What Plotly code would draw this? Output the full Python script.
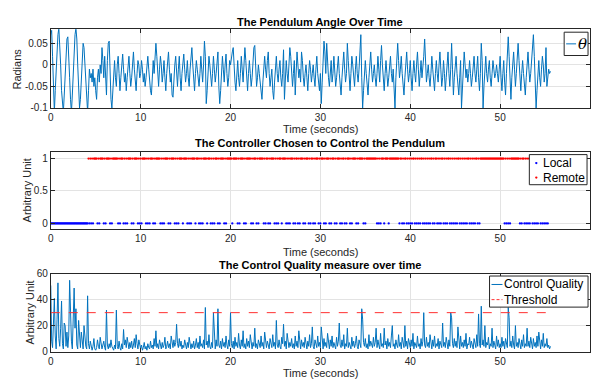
import plotly.graph_objects as go

# ---------------- data ----------------
dt = 0.1
theta = [
    0.07, 0.08, 0.02, -0.07, -0.11, -0.06, 0.0, 0.05, 0.07, 0.085,
    0.05, 0.0, -0.06, -0.1, -0.11, -0.07, -0.02, 0.03, 0.06, 0.065,
    0.03, -0.03, -0.08, -0.11, -0.07, -0.01, 0.04, 0.07, 0.085, 0.06,
    0.0, -0.06, -0.1, -0.08, -0.03, 0.02, 0.05, 0.04, 0.0, -0.05,
    -0.09, -0.11, -0.06, -0.01, -0.03, -0.02, -0.04, -0.01, -0.05, -0.03,
    -0.06, -0.08, -0.03, -0.01, -0.04, 0.0, -0.02, 0.04, 0.01, -0.03,
    0.02, -0.05, -0.07, 0.01, 0.05, 0.055, -0.02, -0.08, -0.1, -0.05,
    -0.01, 0.01, -0.03, -0.05, 0.0, 0.02, -0.02, -0.06, -0.03, 0.01,
    0.025, -0.01, -0.04, -0.02, -0.06, -0.03, 0.01, 0.02, -0.02, -0.05,
    -0.03, 0.0, 0.03, -0.01, -0.04, -0.06, -0.02, 0.01, 0.0, -0.03,
    -0.02, 0.01, -0.01, -0.04, -0.02, -0.05, -0.03, 0.0, 0.02, -0.01,
    -0.04, -0.06, -0.07, -0.03, 0.01, -0.02, 0.03, 0.05, 0.02, -0.03,
    -0.05, -0.01, 0.02, 0.0, -0.04, -0.02, 0.01, -0.03, -0.06, -0.02,
    0.01, 0.03, -0.01, -0.04, -0.02, -0.07, -0.075, -0.03, 0.0, 0.02,
    -0.02, -0.05, -0.01, 0.02, -0.03, -0.06, -0.02, 0.01, 0.025, -0.01,
    -0.04, -0.02, 0.01, -0.03, -0.05, -0.01, 0.02, 0.04, 0.0, -0.04,
    -0.06, -0.02, 0.01, -0.01, -0.03, -0.05, -0.02, 0.02, -0.01, -0.04,
    0.0, 0.055, 0.02, -0.09, -0.06, -0.02, 0.02, 0.0, -0.03, -0.05,
    -0.02, 0.02, -0.01, -0.04, -0.02, 0.01, 0.03, -0.05, -0.09, -0.06,
    -0.02, 0.02, -0.01, -0.04, 0.0, 0.025, -0.02, -0.05, -0.03, 0.01,
    0.0, 0.02, 0.03, 0.04, -0.01, -0.04, -0.06, -0.02, 0.01, -0.03,
    -0.05, -0.02, 0.02, -0.01, -0.04, 0.0, 0.04, 0.01, -0.03, -0.06,
    -0.02, 0.01, -0.02, -0.05, -0.03, 0.02, 0.04, 0.045, -0.01, -0.05,
    -0.03, 0.0, -0.02, -0.04, -0.06, -0.08, -0.04, 0.0, 0.02, -0.01,
    -0.03, 0.01, 0.03, -0.02, -0.05, -0.03, -0.01, -0.06, -0.08, -0.04,
    0.0, 0.02, -0.02, -0.04, -0.01, 0.01, -0.03, -0.05, -0.02, 0.035,
    -0.08, -0.03, 0.01, -0.02, -0.04, 0.0, 0.04, 0.02, -0.03, -0.05,
    -0.02, 0.01, -0.07, -0.02, 0.03, 0.0, -0.03, -0.01, -0.04, 0.03,
    0.01, -0.03, -0.05, -0.02, 0.0, -0.03, -0.06, -0.02, 0.01, -0.01,
    -0.04, -0.02, 0.0, -0.03, -0.05, -0.01, 0.02, -0.02, -0.04, -0.06,
    -0.02, -0.09, -0.04, 0.02, 0.055, 0.03, -0.02, 0.05, 0.0, -0.03,
    -0.05, -0.02, 0.01, -0.04, -0.02, 0.02, -0.01, -0.05, -0.03, 0.0,
    0.02, -0.02, -0.05, -0.07, -0.03, 0.0, 0.03, -0.01, -0.04, -0.02,
    0.05, 0.01, -0.04, -0.06, -0.02, 0.02, 0.0, -0.03, -0.05, -0.01,
    0.02, -0.02, -0.04, -0.01, 0.03, 0.07, -0.03, -0.1, -0.06, -0.02,
    0.01, -0.02, -0.05, -0.07, -0.03, 0.01, 0.03, -0.01, -0.04, -0.02,
    0.0, -0.03, -0.05, -0.02, 0.02, -0.01, -0.04, 0.01, 0.045, 0.0,
    -0.04, -0.06, -0.02, 0.01, -0.02, -0.05, -0.03, 0.0, 0.02, -0.02,
    -0.04, -0.01, -0.06, -0.1, -0.03, 0.02, 0.05, 0.01, -0.03, -0.01,
    0.02, -0.02, -0.05, -0.07, -0.03, 0.0, 0.03, -0.01, -0.04, -0.02,
    0.01, -0.03, -0.06, -0.02, 0.01, -0.02, -0.04, 0.0, 0.03, -0.01,
    -0.05, -0.02, 0.01, -0.03, -0.01, 0.02, 0.06, 0.01, -0.04, -0.02,
    0.0, -0.03, -0.05, -0.02, 0.02, -0.01, -0.04, -0.06, -0.02, 0.01,
    -0.02, -0.04, 0.0, 0.03, -0.01, -0.05, -0.03, 0.01, -0.02, -0.06,
    -0.03, 0.01, 0.03, -0.02, -0.05, -0.01, 0.05, -0.01, -0.07, -0.03,
    0.0, 0.02, -0.02, -0.05, -0.07, -0.03, 0.01, -0.1, -0.05, 0.0,
    0.03, 0.0, -0.03, -0.01, -0.04, -0.02, 0.01, -0.02, -0.05, -0.03,
    0.0, 0.02, -0.02, -0.04, -0.01, 0.02, -0.03, -0.06, -0.02, 0.05,
    0.01, -0.1, -0.05, -0.01, 0.02, -0.02, -0.04, -0.01, 0.01, -0.03,
    -0.05, -0.02, 0.01, -0.01, -0.03, -0.02, 0.0, -0.02, -0.04, -0.01,
    0.02, -0.03, -0.06, -0.02, 0.01, -0.04, -0.07, -0.02, 0.03, 0.065,
    0.02, -0.04, -0.08, -0.03, 0.01, 0.03, -0.01, -0.05, -0.02, 0.02,
    0.05, 0.01, -0.03, -0.06, -0.02, 0.01, -0.02, -0.05, -0.07, -0.03,
    0.0, 0.03, -0.01, -0.04, -0.02, 0.02, 0.04, 0.07, 0.02, -0.05,
    -0.1, -0.06, -0.02, 0.01, -0.03, -0.05, -0.01, 0.02, 0.0, -0.04,
    -0.02, 0.04, -0.05, -0.03, -0.01, -0.02, -0.015,
]

# 1 = Remote controller, 0 = Local controller (one entry per sample)
chosen = [
    0, 0, 0, 0, 0, 0, 0, 0, 0, 0,
    0, 0, 0, 0, 0, 0, 0, 0, 0, 0,
    0, 0, 0, 0, 0, 0, 0, 0, 0, 0,
    0, 0, 0, 0, 0, 0, 0, 0, 0, 0,
    0, 0, 1, 0, 1, 0, 1, 0, 1, 1,
    1, 1, 0, 1, 0, 1, 1, 1, 1, 0,
    1, 0, 1, 1, 1, 1, 0, 1, 0, 1,
    1, 1, 1, 1, 1, 0, 1, 0, 1, 1,
    1, 0, 1, 0, 1, 0, 1, 1, 1, 1,
    0, 1, 0, 1, 1, 1, 1, 0, 1, 0,
    1, 0, 1, 1, 1, 1, 0, 1, 0, 1,
    0, 1, 1, 1, 0, 1, 0, 1, 1, 1,
    1, 1, 0, 1, 0, 1, 0, 1, 1, 1,
    1, 0, 1, 0, 1, 1, 1, 1, 0, 1,
    0, 1, 0, 1, 1, 1, 1, 0, 1, 1,
    1, 1, 0, 1, 0, 1, 0, 1, 1, 1,
    1, 0, 1, 1, 1, 0, 1, 0, 1, 0,
    1, 1, 1, 1, 0, 1, 1, 1, 0, 1,
    0, 1, 0, 1, 1, 1, 0, 1, 0, 1,
    1, 1, 1, 0, 1, 0, 1, 1, 1, 1,
    1, 1, 0, 1, 1, 1, 1, 1, 0, 1,
    0, 1, 1, 1, 1, 0, 1, 0, 1, 1,
    1, 1, 1, 0, 1, 0, 1, 1, 1, 0,
    1, 0, 1, 1, 1, 1, 1, 0, 1, 0,
    1, 1, 0, 1, 0, 1, 1, 1, 1, 0,
    1, 0, 1, 0, 1, 1, 1, 0, 1, 1,
    1, 1, 0, 1, 0, 1, 0, 1, 1, 1,
    0, 1, 0, 1, 1, 0, 1, 0, 1, 1,
    1, 0, 1, 0, 1, 1, 1, 0, 1, 0,
    1, 1, 0, 1, 0, 1, 1, 1, 0, 1,
    0, 1, 1, 1, 0, 1, 0, 1, 1, 1,
    0, 1, 0, 1, 1, 1, 0, 1, 0, 1,
    1, 1, 0, 1, 0, 1, 1, 0, 1, 0,
    1, 1, 1, 0, 1, 0, 1, 1, 1, 1,
    0, 1, 0, 1, 1, 1, 1, 1, 0, 1,
    0, 1, 1, 1, 1, 1, 1, 1, 1, 1,
    1, 1, 1, 0, 1, 0, 1, 0, 1, 1,
    1, 0, 1, 1, 1, 1, 0, 1, 1, 1,
    1, 1, 1, 1, 1, 1, 1, 1, 0, 1,
    1, 0, 1, 0, 1, 1, 0, 1, 0, 1,
    0, 1, 0, 1, 1, 0, 1, 0, 1, 0,
    1, 0, 1, 1, 0, 1, 0, 1, 0, 1,
    0, 1, 0, 1, 1, 0, 1, 0, 1, 1,
    0, 1, 0, 1, 0, 1, 1, 0, 1, 0,
    1, 0, 1, 1, 0, 1, 0, 1, 0, 1,
    0, 1, 0, 1, 1, 0, 1, 0, 1, 0,
    1, 0, 1, 0, 1, 1, 0, 1, 0, 1,
    0, 1, 0, 1, 1, 0, 1, 0, 1, 1,
    1, 1, 1, 1, 1, 1, 1, 1, 1, 1,
    1, 1, 1, 1, 1, 1, 1, 1, 1, 1,
    1, 1, 1, 1, 1, 0, 1, 0, 1, 0,
    1, 0, 1, 1, 1, 1, 1, 1, 1, 1,
    1, 1, 0, 1, 0, 1, 1, 0, 1, 0,
    1, 0, 1, 0, 1, 1, 0, 1, 0, 1,
    0, 1, 0, 1, 1, 0, 1, 0, 1, 0,
    1, 0, 1, 0, 1, 1, 1,
]

quality = [
    51, 8, 3, 20, 41, 12, 2, 25, 53, 10,
    4, 18, 39, 6, 2, 22, 20, 4, 15, 3,
    12, 55, 20, 8, 2, 28, 49, 18, 33, 5,
    2, 24, 8, 3, 15, 6, 2, 20, 10, 4,
    2, 43, 6, 2, 8, 3, 1, 4, 10, 2,
    1, 3, 9, 4, 2, 11, 6, 2, 5, 8,
    3, 1, 32, 5, 2, 6, 3, 9, 4, 2,
    1, 5, 2, 32, 4, 2, 8, 3, 1, 6,
    2, 17, 5, 9, 3, 11, 4, 2, 7, 3,
    8, 2, 5, 10, 3, 13, 6, 2, 9, 4,
    2, 5, 1, 3, 7, 2, 4, 1, 6, 3,
    2, 8, 3, 5, 2, 10, 4, 16, 3, 6,
    2, 9, 4, 2, 7, 3, 5, 11, 2, 4,
    8, 3, 6, 2, 12, 5, 3, 9, 4, 7,
    21, 6, 3, 10, 4, 8, 2, 5, 3, 9,
    4, 2, 7, 3, 11, 5, 2, 6, 3, 8,
    2, 5, 10, 3, 7, 2, 12, 4, 6, 3,
    9, 2, 34, 5, 8, 3, 13, 4, 2, 7,
    3, 30, 6, 2, 9, 4, 33, 5, 3, 8,
    2, 10, 4, 7, 3, 12, 5, 2, 9, 4,
    30, 6, 3, 8, 2, 11, 4, 7, 3, 14,
    5, 2, 9, 4, 16, 3, 6, 2, 10, 4,
    8, 3, 13, 5, 2, 7, 4, 18, 3, 6,
    2, 9, 5, 3, 12, 4, 7, 2, 15, 5,
    3, 8, 4, 2, 10, 6, 3, 13, 4, 7,
    2, 24, 5, 3, 9, 4, 2, 11, 6, 21,
    4, 8, 2, 14, 5, 3, 7, 4, 10, 3,
    6, 2, 12, 4, 8, 3, 16, 5, 2, 9,
    4, 7, 3, 11, 5, 2, 8, 4, 13, 3,
    6, 19, 4, 2, 9, 5, 3, 12, 4, 7,
    3, 19, 5, 2, 10, 4, 7, 3, 14, 6,
    2, 9, 4, 12, 3, 7, 5, 2, 11, 4,
    8, 22, 5, 3, 9, 4, 13, 2, 6, 4,
    18, 3, 7, 5, 2, 11, 4, 8, 3, 6,
    12, 4, 2, 9, 5, 3, 33, 25, 7, 4,
    10, 3, 6, 2, 13, 4, 8, 5, 3, 11,
    4, 7, 18, 3, 9, 5, 2, 14, 4, 6,
    3, 18, 5, 8, 2, 10, 4, 7, 3, 12,
    20, 4, 6, 2, 9, 5, 3, 13, 4, 7,
    2, 11, 5, 3, 20, 4, 8, 2, 10, 6,
    3, 9, 4, 14, 2, 7, 5, 3, 12, 4,
    6, 2, 10, 4, 8, 30, 5, 3, 11, 4,
    7, 3, 13, 5, 2, 9, 4, 12, 3, 6,
    4, 10, 2, 8, 5, 3, 22, 4, 7, 3,
    11, 5, 2, 9, 4, 30, 26, 6, 3, 10,
    4, 8, 3, 19, 5, 2, 12, 4, 7, 3,
    9, 4, 14, 2, 6, 5, 11, 3, 8, 4,
    2, 10, 5, 3, 13, 4, 29, 6, 3, 35,
    5, 9, 4, 20, 3, 7, 5, 11, 2, 6,
    4, 18, 3, 8, 5, 2, 12, 4, 9, 3,
    6, 3, 11, 4, 8, 2, 10, 5, 3, 34,
    26, 4, 8, 3, 12, 5, 2, 20, 4, 7,
    3, 10, 5, 2, 9, 4, 13, 3, 6, 4,
    18, 4, 8, 3, 11, 5, 2, 10, 4, 7,
    3, 12, 4, 15, 5, 2, 9, 4, 14, 3,
    6, 4, 10, 3, 5, 2, 4,
]

threshold = 30
time = [round(i * dt, 2) for i in range(len(theta))]

x_ticks = [0, 10, 20, 30, 40, 50, 60]
y1_ticks = [-0.1, -0.05, 0, 0.05]
y1_labels = ["-0.1", "-0.05", "0", "0.05"]
y2_ticks = [0, 0.5, 1]
y2_labels = ["0", "0.5", "1"]
y3_ticks = [0, 20, 40, 60]

# ---------------- figure ----------------
W, H = 595, 385
BLUE = "#0072BD"
AX = "#262626"
GRID = "#e3e3e3"
RED_DASH = "#FF3030"
FONT = "Liberation Sans, Arial, Helvetica, sans-serif"

local_t = [t for t, c in zip(time, chosen) if c == 0]
remote_t = [t for t, c in zip(time, chosen) if c == 1]

fig = go.Figure()
fig.add_trace(go.Scatter(x=time, y=theta, mode="lines", name="θ",
                         line=dict(color=BLUE, width=1), xaxis="x", yaxis="y"))
fig.add_trace(go.Scatter(x=local_t, y=[0] * len(local_t), mode="markers", name="Local",
                         marker=dict(color="#0000FF", size=2.3), xaxis="x2", yaxis="y2"))
fig.add_trace(go.Scatter(x=remote_t, y=[1] * len(remote_t), mode="markers", name="Remote",
                         marker=dict(color="#FF0000", size=2.3), xaxis="x2", yaxis="y2"))
fig.add_trace(go.Scatter(x=time, y=quality, mode="lines", name="Control Quality",
                         line=dict(color=BLUE, width=1), xaxis="x3", yaxis="y3"))
fig.add_trace(go.Scatter(x=[time[0], time[-1]], y=[threshold, threshold], mode="lines",
                         name="Threshold", line=dict(color=RED_DASH, width=1, dash="dash"),
                         xaxis="x3", yaxis="y3"))

xl, xr = 48 / W, 590 / W
doms = [(1 - 106 / H, 1 - 25 / H), (1 - 230.7 / H, 1 - 151.7 / H), (1 - 356.7 / H, 1 - 276.7 / H)]

def xaxis(anchor):
    return dict(domain=[xl, xr], range=[0, 60], tickvals=x_ticks, anchor=anchor,
                showline=True, linecolor=AX, linewidth=1, mirror="ticks",
                ticks="inside", ticklen=4, tickcolor=AX, showgrid=True, gridcolor=GRID,
                zeroline=False, tickfont=dict(family=FONT, size=10, color=AX))

def yaxis(anchor, dom, rng, tv, tt):
    return dict(domain=list(dom), range=rng, tickvals=tv, ticktext=tt, anchor=anchor,
                showline=True, linecolor=AX, linewidth=1, mirror="ticks",
                ticks="inside", ticklen=4, tickcolor=AX, showgrid=True, gridcolor=GRID,
                zeroline=False, tickfont=dict(family=FONT, size=10, color=AX))

fig.update_layout(
    width=W, height=H, margin=dict(l=0, r=0, t=0, b=0),
    paper_bgcolor="white", plot_bgcolor="white", showlegend=False,
    xaxis=xaxis("y"), yaxis=yaxis("x", doms[0], [-0.1, 0.0825], y1_ticks, y1_labels),
    xaxis2=xaxis("y2"), yaxis2=yaxis("x2", doms[1], [-0.087, 1.095], y2_ticks, y2_labels),
    xaxis3=xaxis("y3"), yaxis3=yaxis("x3", doms[2], [0, 60], y3_ticks, [str(v) for v in y3_ticks]),
)

def px(x):
    return x / W

def py(y):
    return 1 - y / H

# ---- legend boxes (MATLAB style, compact) ----
def box(x0, y0, x1, y1):
    fig.add_shape(type="rect", xref="paper", yref="paper", x0=px(x0), x1=px(x1),
                  y0=py(y1), y1=py(y0), fillcolor="white", line=dict(color=AX, width=1))

def sample_line(x0, x1, y, color, dash="solid"):
    fig.add_shape(type="line", xref="paper", yref="paper", x0=px(x0), x1=px(x1),
                  y0=py(y), y1=py(y), line=dict(color=color, width=1, dash=dash))

def sample_dot(x, y, color):
    r = 1.2
    fig.add_shape(type="circle", xref="paper", yref="paper", x0=px(x - r), x1=px(x + r),
                  y0=py(y + r), y1=py(y - r), fillcolor=color, line=dict(width=0))

def label(txt, x, y, size=12, family=FONT):
    fig.add_annotation(text=txt, x=px(x), y=py(y), xref="paper", yref="paper",
                       showarrow=False, xanchor="left", yanchor="middle",
                       font=dict(family=family, size=size, color="black"))

box(564, 28, 588, 52)
sample_line(566, 576, 40, BLUE)
label("<i>θ</i>", 575.5, 40.5, size=15, family="DejaVu Serif, Liberation Serif, serif")

box(529, 154, 587, 185)
sample_dot(536, 162.7, "#0000FF")
sample_dot(536, 177.7, "#FF0000")
label("Local", 540.5, 162.7)
label("Remote", 540.5, 177.7)

box(489, 279, 588, 311)
sample_line(491, 502, 287.7, BLUE)
sample_line(491, 502, 303.3, RED_DASH, dash="3px,2px")
label("Control Quality", 501.5, 287.7)
label("Threshold", 501.5, 303.3)

# ---- titles and axis labels ----
xc = (48 + 590) / 2 / W
titles = [("The Pendulum Angle Over Time", 17), ("The Controller Chosen to Control the Pendulum", 142),
          ("The Control Quality measure over time", 268)]
for txt, yp in titles:
    fig.add_annotation(text=f"<b>{txt}</b>", x=xc, y=py(yp), xref="paper", yref="paper",
                       showarrow=False, xanchor="center", yanchor="middle",
                       font=dict(family=FONT, size=11, color="black"))
for yp in (128, 254, 379):
    fig.add_annotation(text="Time (seconds)", x=xc, y=py(yp), xref="paper", yref="paper",
                       showarrow=False, xanchor="center", yanchor="middle",
                       font=dict(family=FONT, size=11, color=AX))
for txt, xp, yp in (("Radians", 14, 65.5), ("Arbitrary Unit", 24, 191), ("Arbitrary Unit", 27, 316.7)):
    fig.add_annotation(text=txt, x=px(xp), y=py(yp), xref="paper", yref="paper",
                       showarrow=False, xanchor="center", yanchor="middle", textangle=-90,
                       font=dict(family=FONT, size=11, color=AX))

fig.write_html("out.html")
